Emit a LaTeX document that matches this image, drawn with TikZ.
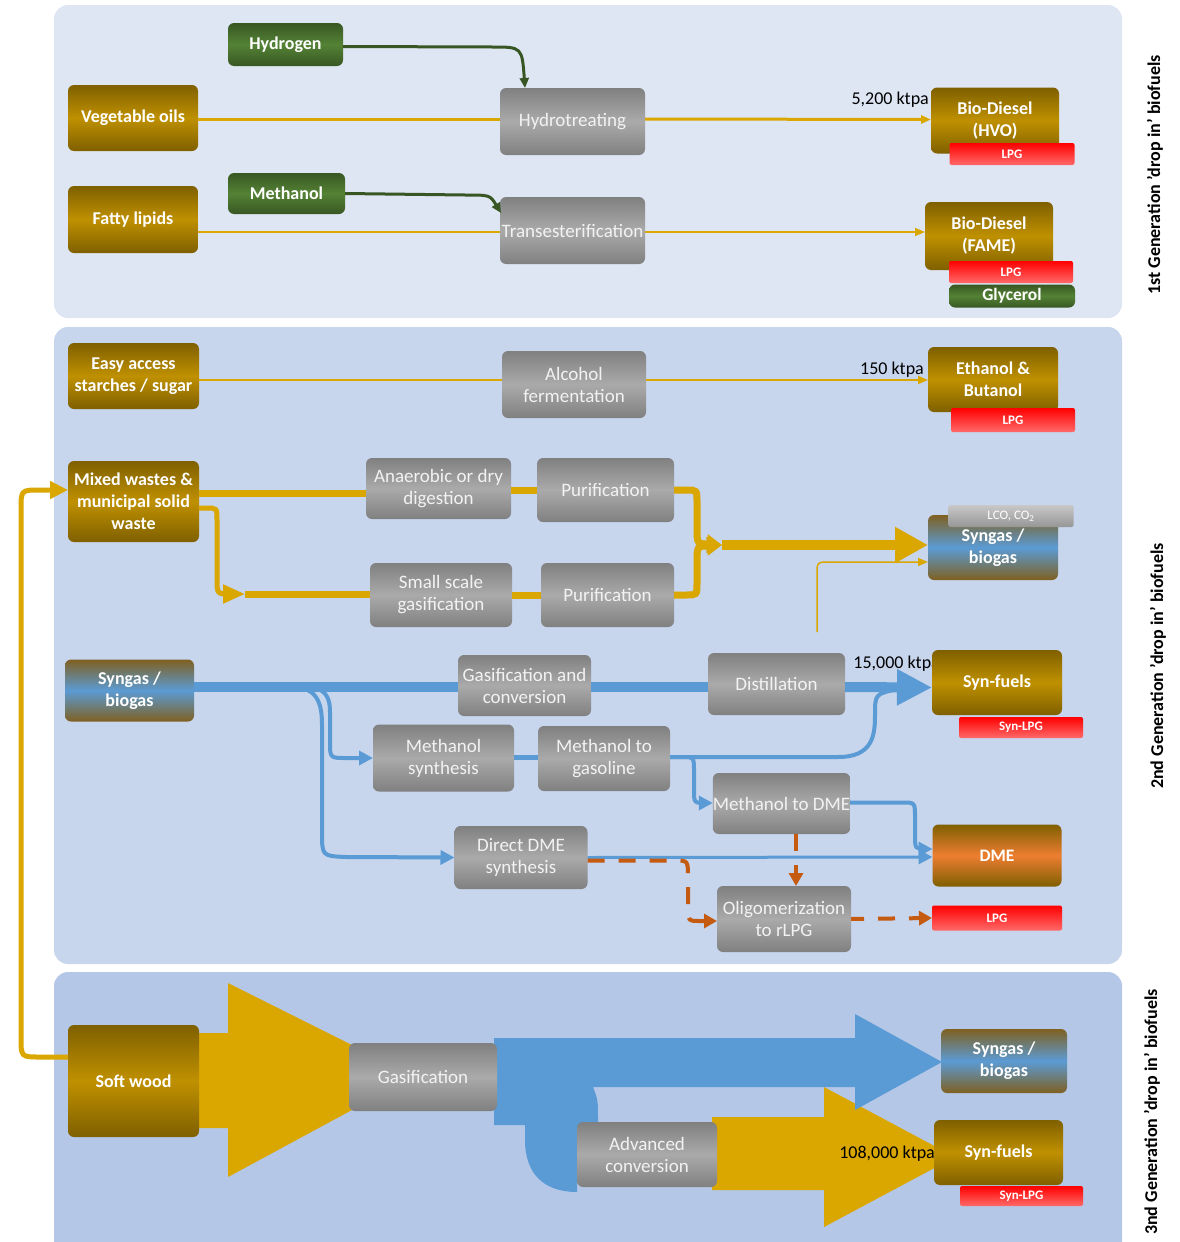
\documentclass[tikz,border=0pt]{standalone}
\usepackage{fontspec}
\setmainfont{Carlito}
\usetikzlibrary{arrows.meta,calc}
\definecolor{goldD}{RGB}{127,96,0}
\definecolor{goldM}{RGB}{191,144,0}
\definecolor{grayD}{RGB}{128,128,128}
\definecolor{grayM}{RGB}{170,170,170}
\definecolor{procT}{RGB}{242,242,242}
\definecolor{grnD}{RGB}{56,87,35}
\definecolor{grnM}{RGB}{84,130,53}
\definecolor{redT}{RGB}{255,0,0}
\definecolor{redB}{RGB}{255,105,105}
\definecolor{blueS}{RGB}{91,155,213}
\definecolor{brownS}{RGB}{127,96,32}
\definecolor{orgM}{RGB}{237,125,49}
\definecolor{goldL}{RGB}{218,166,0}
\definecolor{blueL}{RGB}{91,155,213}
\definecolor{grnL}{RGB}{55,86,35}
\definecolor{orgL}{RGB}{197,90,17}
\definecolor{panA}{RGB}{222,230,243}
\definecolor{panB}{RGB}{199,213,237}
\definecolor{panC}{RGB}{180,199,231}
\definecolor{lcoT}{RGB}{200,200,200}
\definecolor{lcoB}{RGB}{150,150,150}
\tikzset{
 base/.style={inner sep=0pt, outer sep=0pt, align=center, rounded corners=6pt},
 goldbox/.style={base, top color=goldD, bottom color=goldD, middle color=goldM, text=white, font=\bfseries\fontsize{18}{22}\selectfont},
 procbox/.style={base, top color=grayD, bottom color=grayD, middle color=grayM, text=procT, font=\fontsize{19}{22}\selectfont},
 greenbox/.style={base, top color=grnD, bottom color=grnD, middle color=grnM, text=white, font=\bfseries\fontsize{18}{20}\selectfont},
 lpgbox/.style={base, rounded corners=2pt, top color=redT, bottom color=redB, text=white, font=\bfseries\fontsize{13}{14}\selectfont},
 syngbox/.style={base, top color=brownS, bottom color=brownS, middle color=blueS, text=white, font=\bfseries\fontsize{18}{22}\selectfont},
 dmebox/.style={base, top color=goldD, bottom color=goldD, middle color=orgM, text=white, font=\bfseries\fontsize{17.5}{20}\selectfont},
 lcobox/.style={base, rounded corners=2pt, top color=lcoT, bottom color=lcoB, text=white, font=\fontsize{13}{14}\selectfont},
 ktpa/.style={inner sep=0pt, anchor=east, font=\fontsize{18}{20}\selectfont, text=black},
 sidelabel/.style={rotate=90, inner sep=0pt, font=\bfseries\fontsize{18}{20}\selectfont, text=black},
 panel/.style={rounded corners=14pt},
 gtip/.style={-{Triangle[length=10pt,width=8pt]}},
 btip/.style={-{Triangle[length=14pt,width=14pt]}},
 otip/.style={-{Triangle[length=13pt,width=14pt]}},
 orgdash/.style={draw=orgL, line width=4pt, dash pattern=on 17pt off 14pt},
}
\begin{document}
\begin{tikzpicture}[x=1pt,y=-1pt]
\useasboundingbox (0,0) rectangle (1180,1242);
% panels
\begin{scope}
\clip (0,0) rectangle (1180,1242);
\fill[panA, panel] (54,5) rectangle (1122,318);
\fill[panB, panel] (54,327) rectangle (1122,964);
\fill[panC, panel] (54,972) rectangle (1122,1270);
\end{scope}
% 3rd generation flows (shapes)
\fill[goldL] (197,1033) -- (228,1033) -- (228,983) -- (352,1045) -- (352,1110) -- (228,1177) -- (228,1128) -- (197,1128) -- cycle;
\fill[goldL] (712,1117) -- (824,1117) -- (824,1087) -- (955,1157) -- (824,1227) -- (824,1190) -- (712,1190) -- cycle;
\fill[blueL] (494,1038) -- (855,1038) -- (855,1014) -- (942,1062) -- (855,1110) -- (855,1087) -- (593,1087) .. controls (598,1100) .. (598,1122) -- (590,1122) -- (577,1135) -- (577,1192) .. controls (545,1192) and (525,1175) .. (525,1140) -- (525,1125) -- (494,1125) -- cycle;
% ktpa labels
\node[ktpa] (k1) at (929,100) {5,200 ktpa};
\node[ktpa] (k2) at (924,370) {150 ktpa};
\node[ktpa] (k3) at (940,664) {15,000 ktpa};
\node[ktpa] (k4) at (935,1154) {108,000 ktpa};
% panel 1 nodes
\node[greenbox, minimum width=115pt, minimum height=43pt] (hyd) at (285.5,44.5) {Hydrogen};
\node[goldbox, minimum width=130pt, minimum height=66pt] (veg) at (133,118) {Vegetable oils};
\node[procbox, minimum width=145pt, minimum height=67pt] (hydro) at (572.5,121.5) {Hydrotreating};
\node[goldbox, minimum width=130pt, minimum height=67pt] (fat) at (133,219.5) {Fatty lipids};
\node[greenbox, minimum width=117pt, minimum height=41pt] (meth) at (286.5,193.5) {Methanol};
\node[procbox, minimum width=145pt, minimum height=67pt] (trans) at (572.5,230.5) {Transesterification};
\node[goldbox, minimum width=128pt, minimum height=66pt] (hvo) at (995,120.5) {Bio-Diesel\\(HVO)};
\node[lpgbox, minimum width=125pt, minimum height=22pt] (lpgA) at (1012,154) {LPG};
\node[goldbox, minimum width=128pt, minimum height=68pt] (fame) at (989,236) {Bio-Diesel\\(FAME)};
\node[lpgbox, minimum width=124pt, minimum height=22pt] (lpgB) at (1011,272) {LPG};
\node[greenbox, minimum width=126pt, minimum height=23pt, font=\bfseries\fontsize{17.5}{19}\selectfont] (glyc) at (1012,296) {Glycerol};
% panel 2 nodes
\node[goldbox, minimum width=131pt, minimum height=66pt] (starch) at (133.5,376) {Easy access\\starches / sugar};
\node[procbox, minimum width=144pt, minimum height=67pt] (alc) at (574,384.5) {Alcohol\\fermentation};
\node[goldbox, minimum width=130pt, minimum height=65pt] (eth) at (993,379.5) {Ethanol \&\\Butanol};
\node[lpgbox, minimum width=124pt, minimum height=24pt] (lpgC) at (1013,420) {LPG};
\node[goldbox, minimum width=131pt, minimum height=81pt] (mixed) at (133.5,501.5) {Mixed wastes \&\\municipal solid\\waste};
\node[procbox, minimum width=145pt, minimum height=61pt] (ana) at (438.5,488.5) {Anaerobic or dry\\digestion};
\node[procbox, minimum width=137pt, minimum height=64pt] (pur1) at (605.5,490) {Purification};
\node[procbox, minimum width=142pt, minimum height=64pt] (small) at (441,595) {Small scale\\gasification};
\node[procbox, minimum width=133pt, minimum height=64pt] (pur2) at (607.5,595) {Purification};
\node[syngbox, minimum width=130pt, minimum height=65pt] (syng2) at (993,547.5) {\\[-8pt]Syngas /\\biogas};
\node[lcobox, minimum width=125pt, minimum height=22pt] (lco) at (1011,516) {LCO, CO\textsubscript{2}};
\node[syngbox, minimum width=129pt, minimum height=62pt] (syng3) at (129.5,690.5) {Syngas /\\biogas};
\node[procbox, minimum width=133pt, minimum height=61pt] (gac) at (524.5,685.5) {Gasification and\\conversion};
\node[procbox, minimum width=137pt, minimum height=62pt] (dist) at (776.5,684) {Distillation};
\node[goldbox, minimum width=130pt, minimum height=65pt] (sf2) at (997,682.5) {Syn-fuels};
\node[lpgbox, minimum width=124pt, minimum height=21pt] (lpgD) at (1021,727.5) {Syn-LPG};
\node[procbox, minimum width=141pt, minimum height=67pt] (msyn) at (443.5,758) {Methanol\\synthesis};
\node[procbox, minimum width=132pt, minimum height=65pt] (mtg) at (604,758.5) {Methanol to\\gasoline};
\node[procbox, minimum width=133pt, minimum height=61pt] (m2dme) at (781.5,803.5) {Methanol to DME};
\node[dmebox, minimum width=129pt, minimum height=62pt] (dme) at (997,855.5) {DME};
\node[procbox, minimum width=133pt, minimum height=63pt] (ddme) at (521,857.5) {Direct DME\\synthesis};
\node[procbox, minimum width=134pt, minimum height=66pt] (oligo) at (784,919) {Oligomerization\\to rLPG};
\node[lpgbox, minimum width=130pt, minimum height=25pt] (lpgE) at (997,918) {LPG};
% panel 3 nodes
\node[goldbox, minimum width=131pt, minimum height=112pt] (sw) at (133.5,1081) {Soft wood};
\node[procbox, minimum width=148pt, minimum height=68pt] (gasif) at (423,1077) {Gasification};
\node[syngbox, minimum width=126pt, minimum height=64pt] (syng4) at (1004,1061) {Syngas /\\biogas};
\node[procbox, minimum width=140pt, minimum height=65pt] (adv) at (647,1154.5) {Advanced\\conversion};
\node[goldbox, minimum width=129pt, minimum height=65pt] (sf3) at (998.5,1152.5) {Syn-fuels};
\node[lpgbox, minimum width=123pt, minimum height=20pt] (lpgF) at (1021.5,1196) {Syn-LPG};
% side labels
\node[sidelabel] (g1) at (1155,175) {1st Generation 'drop in' biofuels};
\node[sidelabel] (g2) at (1158,666) {2nd Generation 'drop in' biofuels};
\node[sidelabel] (g3) at (1152,1112) {3nd Generation 'drop in' biofuels};
% ---- panel 1 connectors
\draw[goldL, line width=3pt] ([yshift=-1pt]veg.east) -- ([yshift=2.5pt]hydro.west);
\draw[goldL, line width=3pt, gtip] ([yshift=2.5pt]hydro.east) -- ([yshift=1pt]hvo.west);
\draw[goldL, line width=1.5pt] ([yshift=-12.5pt]fat.east) -- ([yshift=-1.5pt]trans.west);
\draw[goldL, line width=1.5pt, gtip] ([yshift=-1.5pt]trans.east) -- ([yshift=4pt]fame.west);
\draw[grnL, line width=3pt, -{Triangle[length=10pt,width=9pt]}] ([yshift=-2pt]hyd.east) -- (492,47) .. controls (522,47) .. ($(hydro.north west)+(25,0)$);
\draw[grnL, line width=3pt, -{Triangle[length=10pt,width=9pt]}] (meth.east) -- (465,195) .. controls (490,195) .. ($(trans.north west)+(1,16)$);
% ---- panel 2 connectors
\draw[goldL, line width=1.5pt] ([yshift=-4pt]starch.east) -- ([yshift=4.5pt]alc.west);
\draw[goldL, line width=1.5pt, gtip] ([yshift=4.5pt]alc.east) -- ([yshift=-0.5pt]eth.west);
\draw[goldL, line width=7pt] ([yshift=8.5pt]mixed.east) -- ([yshift=-4.5pt]ana.west);
\draw[goldL, line width=7pt] ([yshift=-1.5pt]ana.east) -- (pur1.west);
\coordinate (mtwo) at (245,594);
\draw[goldL, line width=5pt, -{Triangle[length=22pt,width=18pt]}] ([yshift=-6.5pt]mixed.east) -- (206,508) .. controls (217,508) .. (217,520) -- (217,578) .. controls (217,594) .. (230,594) -- (mtwo);
\draw[goldL, line width=7pt] (mtwo) -- ([yshift=1pt]small.west);
\draw[goldL, line width=7pt] (small.east) -- (pur2.west);
\coordinate (mrg) at (722,545);
\draw[goldL, line width=7pt, -{Triangle[length=15pt,width=18pt]}] (pur1.east) -- (686,490) .. controls (697,490) .. (697,502) -- (697,528) .. controls (697,544) .. (710,544) -- (mrg);
\draw[goldL, line width=7pt, -{Triangle[length=15pt,width=18pt]}] (pur2.east) -- (686,595) .. controls (697,595) .. (697,583) -- (697,562) .. controls (697,546) .. (710,546) -- (mrg);
\draw[goldL, line width=10pt, -{Triangle[length=33pt,width=34pt]}] (mrg) -- ([yshift=2.5pt]syng2.west);
\coordinate (thinA) at (817,632);
\draw[goldL, line width=1.5pt, gtip] (thinA) -- (817,575) .. controls (817,562) .. (830,562) -- ([yshift=-14.5pt]syng2.west);
% blue main line
\draw[blueL, line width=10pt] ([yshift=3.5pt]syng3.east) -- ([yshift=-1.5pt]gac.west);
\draw[blueL, line width=10pt] ([yshift=-1.5pt]gac.east) -- ([yshift=-3pt]dist.west);
\draw[blueL, line width=10pt, -{Triangle[length=35pt,width=34pt]}] ([yshift=-3pt]dist.east) -- ([yshift=-5pt]sf2.west);
\coordinate (bA) at (302,688);
\coordinate (bB) at (315,688);
\draw[blueL, line width=4pt, btip] (bA) .. controls (318,692) and (322,705) .. (322,725) -- (322,832) .. controls (322,856) .. (346,857) -- (ddme.west);
\draw[blueL, line width=4pt, btip] (bB) .. controls (327,691) and (330,700) .. (330,712) -- (330,742) .. controls (330,758) .. (346,758) -- (msyn.west);
\draw[blueL, line width=5pt] ([yshift=1pt]msyn.east) -- ([yshift=1.5pt]mtg.west);
\draw[blueL, line width=4pt] ([yshift=1.5pt]mtg.east) -- (838,757) .. controls (873,757) and (875,735) .. (875,715) .. controls (875,694) .. (898,689);
\draw[blueL, line width=4pt, btip] ([yshift=1.5pt]mtg.east) -- (682,757) .. controls (694,757) .. (694,772) -- (694,790) .. controls (694,803) .. (706,803) -- ([yshift=0.5pt]m2dme.west);
\draw[blueL, line width=4pt, btip] ([yshift=1pt]m2dme.east) -- (902,802.5) .. controls (915,802.5) .. (915,817) -- (915,834) .. controls (915,849) .. (926,849) -- ([yshift=6.5pt]dme.west);
\draw[blueL, line width=3pt, btip] (ddme.east) -- ([yshift=-1.5pt]dme.west);
% orange dashed
\draw[orgdash, otip] ([xshift=14.5pt]m2dme.south) -- ([xshift=12pt]oligo.north);
\draw[orgdash, otip] ([yshift=-3pt]ddme.east) -- (675,860.5) .. controls (688,860.5) .. (688,878) -- (688,906) .. controls (688,921) .. (700,921) -- ([yshift=-2pt]oligo.west);
\draw[orgdash, otip, dash phase=4pt] (oligo.east) -- (lpgE.west);
% soft wood to mixed wastes
\draw[goldL, line width=5pt, -{Triangle[length=18pt,width=17pt]}] ([yshift=24pt]sw.west) -- (40,1057) .. controls (21,1057) .. (21,1037) -- (21,510) .. controls (21,490) .. (40,490) -- ([yshift=11.5pt]mixed.west);
\end{tikzpicture}
\end{document}
